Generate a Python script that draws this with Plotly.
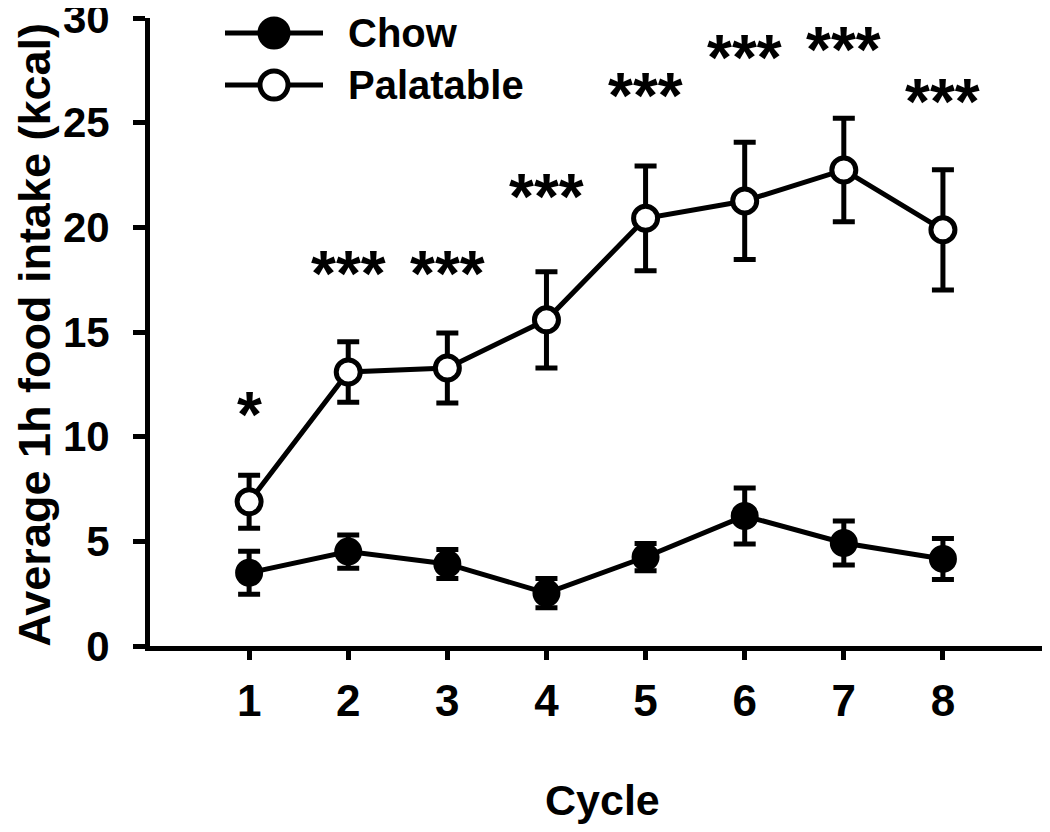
import plotly.graph_objects as go

cycles = [1, 2, 3, 4, 5, 6, 7, 8]
chow_mean = [3.50, 4.51, 3.92, 2.53, 4.25, 6.21, 4.92, 4.16]
chow_err = [1.03, 0.79, 0.69, 0.70, 0.65, 1.34, 1.05, 0.98]
pal_mean = [6.89, 13.09, 13.28, 15.58, 20.43, 21.26, 22.74, 19.88]
pal_err = [1.27, 1.45, 1.67, 2.30, 2.50, 2.80, 2.47, 2.87]
sig_labels = ["*", "***", "***", "***", "***", "***", "***", "***"]
sig_y = [11.47, 18.2, 18.2, 21.9, 26.7, 28.5, 28.9, 26.4]
y_ticks = [0, 5, 10, 15, 20, 25, 30]
series_names = ["Chow", "Palatable"]

FONT = "Liberation Sans, Arial, sans-serif"
BLACK = "#000000"

fig = go.Figure()

fig.add_trace(go.Scatter(
    x=cycles, y=chow_mean, name=series_names[0], mode="lines+markers",
    line=dict(color=BLACK, width=5),
    marker=dict(symbol="circle", size=26, color=BLACK, line=dict(color=BLACK, width=2)),
    error_y=dict(type="data", array=chow_err, visible=True, color=BLACK, thickness=5, width=11),
    cliponaxis=False, showlegend=False,
))
fig.add_trace(go.Scatter(
    x=cycles, y=pal_mean, name=series_names[1], mode="lines+markers",
    line=dict(color=BLACK, width=5),
    marker=dict(symbol="circle", size=24, color="white", line=dict(color=BLACK, width=5)),
    error_y=dict(type="data", array=pal_err, visible=True, color=BLACK, thickness=5, width=11),
    cliponaxis=False, showlegend=False,
))

annotations = []
for xc, lab, yy in zip(cycles, sig_labels, sig_y):
    annotations.append(dict(
        x=xc, y=yy, xref="x", yref="y", text=lab, showarrow=False,
        font=dict(family=FONT, size=64, color=BLACK, weight="bold"),
        xanchor="center", yanchor="middle", yshift=-9,
    ))

# axis titles
annotations.append(dict(
    x=(35 - 150) / 897, y=0.496, xref="paper", yref="paper",
    text="Average 1h food intake (kcal)", textangle=-90, showarrow=False,
    font=dict(family=FONT, size=45, color=BLACK, weight="bold"),
    xanchor="center", yanchor="middle",
))
annotations.append(dict(
    x=0.505, y=(646 - 800) / 628, xref="paper", yref="paper",
    text="Cycle", showarrow=False,
    font=dict(family=FONT, size=43, color=BLACK, weight="bold"),
    xanchor="center", yanchor="middle",
))

# manual legend
shapes = []
leg_rows = [((646 - 33) / 628, BLACK), ((646 - 85) / 628, "white")]
lx0, lx1, lm, ltext = 75 / 897, 173 / 897, 124 / 897, 196 / 897
for (ly, fill), nm in zip(leg_rows, series_names):
    shapes.append(dict(type="line", xref="paper", yref="paper", x0=lx0, x1=lx1, y0=ly, y1=ly,
                       line=dict(color=BLACK, width=5), layer="above"))
    shapes.append(dict(type="circle", xref="paper", yref="paper", xsizemode="pixel", ysizemode="pixel",
                       xanchor=lm, yanchor=ly, x0=-14, x1=14, y0=-14, y1=14,
                       fillcolor=fill, line=dict(color=BLACK, width=5), layer="above"))
    annotations.append(dict(x=ltext, y=ly, xref="paper", yref="paper", text=nm, showarrow=False,
                            font=dict(family=FONT, size=40, color=BLACK, weight="bold"),
                            xanchor="left", yanchor="middle"))

# page body adds an 8px margin, so the figure is sized/positioned to compensate
fig.update_layout(
    width=1042, height=824,
    margin=dict(l=142, r=3, t=10, b=186, autoexpand=False),
    paper_bgcolor="white", plot_bgcolor="white",
    showlegend=False,
    annotations=annotations, shapes=shapes,
    font=dict(family=FONT, color=BLACK),
)
fig.update_xaxes(
    range=[0, 9.05], tickvals=cycles, ticktext=[str(c) for c in cycles],
    showline=True, linecolor=BLACK, linewidth=5, showgrid=False, zeroline=False,
    ticks="outside", ticklen=9, tickwidth=5, tickcolor=BLACK, automargin=False,
    tickfont=dict(family=FONT, size=44, color=BLACK, weight="bold"),
    ticklabelstandoff=3, ticklabeloverflow="allow",
)
fig.update_yaxes(
    range=[0, 30], tickvals=y_ticks,
    showline=True, linecolor=BLACK, linewidth=5, showgrid=False, zeroline=False,
    ticks="outside", ticklen=12, tickwidth=5, tickcolor=BLACK, automargin=False,
    tickfont=dict(family=FONT, size=42, color=BLACK, weight="bold"),
    ticklabelstandoff=15, ticklabeloverflow="allow",
)

fig.write_html("out.html")
